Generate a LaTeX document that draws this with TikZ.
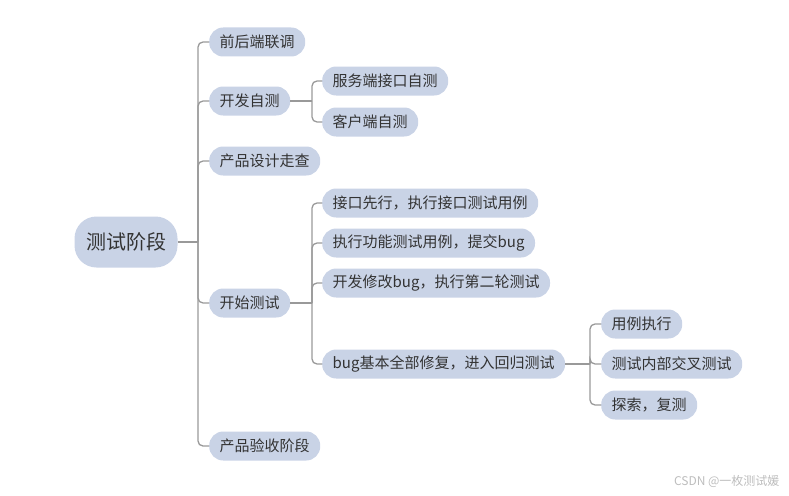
\documentclass[tikz,border=0pt]{standalone}
\usepackage{fontspec}
\setmainfont{Noto Sans CJK SC}
\definecolor{boxfill}{HTML}{C9D3E6}
\definecolor{txt}{HTML}{333333}
\definecolor{linegray}{HTML}{999999}
\definecolor{wm}{HTML}{BDBDBD}
\tikzset{
  leaf/.style={fill=boxfill, text=txt, rounded corners=14pt, minimum height=29pt,
    inner xsep=10.5pt, inner ysep=0pt, font=\fontsize{15}{15}\selectfont, anchor=center},
  rootbox/.style={fill=boxfill, text=txt, rounded corners=22pt, minimum height=51pt,
    inner xsep=11.5pt, inner ysep=0pt, font=\fontsize{20}{20}\selectfont},
  conn/.style={draw=linegray, line width=1.3pt, rounded corners=5pt},
}
\begin{document}
\begin{tikzpicture}[x=1pt,y=-1pt]
\useasboundingbox (0,0) rectangle (789,495);
\node[rootbox] (root) at (126,242) {测试阶段};
\node[leaf, anchor=west] (a1) at (209,42) {前后端联调};
\node[leaf, anchor=west] (a2) at (209,101) {开发自测};
\node[leaf, anchor=west] (b1) at (322,81) {服务端接口自测};
\node[leaf, anchor=west] (b2) at (322,122) {客户端自测};
\node[leaf, anchor=west] (a3) at (209,161) {产品设计走查};
\node[leaf, anchor=west] (c1) at (322,203) {接口先行，执行接口测试用例};
\node[leaf, anchor=west] (c2) at (322,243) {执行功能测试用例，提交bug};
\node[leaf, anchor=west] (c3) at (322,283) {开发修改bug，执行第二轮测试};
\node[leaf, anchor=west] (a4) at (209,303) {开始测试};
\node[leaf, anchor=west] (c4) at (322,364) {bug基本全部修复，进入回归测试};
\node[leaf, anchor=west] (d1) at (601,324) {用例执行};
\node[leaf, anchor=west] (d2) at (601,364) {测试内部交叉测试};
\node[leaf, anchor=west] (d3) at (601,405) {探索，复测};
\node[leaf, anchor=west] (a5) at (209,446) {产品验收阶段};
% trunk from root
\coordinate (t0) at (198,242);
\draw[conn] (root.east) -- (t0);
\foreach \n in {a1,a2,a3,a4,a5} \draw[conn] (t0) |- (\n.west);
% 开发自测
\coordinate (t1) at (312,101);
\draw[conn] (a2.east) -- (t1);
\foreach \n in {b1,b2} \draw[conn] (t1) |- (\n.west);
% 开始测试
\coordinate (t2) at (312,303);
\draw[conn] (a4.east) -- (t2);
\foreach \n in {c1,c2,c3,c4} \draw[conn] (t2) |- (\n.west);
% 回归测试
\coordinate (t3) at (590,364);
\draw[conn] (c4.east) -- (t3);
\foreach \n in {d1,d2,d3} \draw[conn] (t3) |- (\n.west);
\node[text=wm, font=\fontsize{12}{12}\selectfont, anchor=east] (wmk) at (783,481) {CSDN @一枚测试媛};
\end{tikzpicture}
\end{document}
